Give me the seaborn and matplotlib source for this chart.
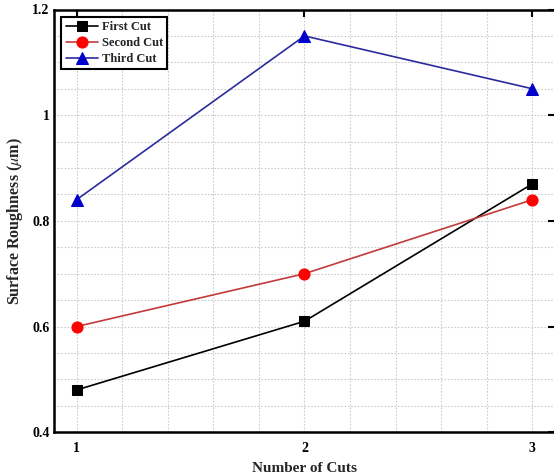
import matplotlib
matplotlib.use("Agg")
import matplotlib.pyplot as plt
import seaborn as sns
import pandas as pd
from matplotlib.ticker import MultipleLocator

cuts = [1, 2, 3]
first_cut = [0.48, 0.61, 0.87]
second_cut = [0.60, 0.70, 0.84]
third_cut = [0.84, 1.15, 1.05]
series_names = ["First Cut", "Second Cut", "Third Cut"]

sns.set_theme(style="white")
plt.rcParams['font.family'] = ['Liberation Serif', 'DejaVu Serif']
plt.rcParams['mathtext.fontset'] = 'stix'

fig = plt.figure(figsize=(5.54, 4.75), dpi=100)
ax = fig.add_axes([0.097, 0.09, 0.905, 0.89])

styles = [
    dict(color="black", marker="s", mfc="black", mec="black", ms=7),
    dict(color="#c23b3b", marker="o", mfc="red", mec="red", ms=8),
    dict(color="#2b2b9e", marker="^", mfc="#0000cc", mec="#0000cc", ms=9),
]
for name, vals, st in zip(series_names, [first_cut, second_cut, third_cut], styles):
    df = pd.DataFrame({"x": cuts, "y": vals})
    sns.lineplot(data=df, x="x", y="y", ax=ax, color=st["color"], marker=st["marker"],
                 markerfacecolor=st["mfc"], markeredgecolor=st["mec"], markersize=st["ms"],
                 linewidth=1.2, label=name)

ax.set_xlim(0.9, 3.1)
ax.set_ylim(0.4, 1.2)
ax.set_xticks([1, 2, 3])
ax.set_xticklabels(["1", "2", "3"])
ax.set_yticks([0.4, 0.6, 0.8, 1.0, 1.2])
ax.set_yticklabels(["0.4", "0.6", "0.8", "1", "1.2"])
ax.xaxis.set_minor_locator(MultipleLocator(0.2))
ax.yaxis.set_minor_locator(MultipleLocator(0.05))
ax.grid(which="both", color="#cccccc", linestyle=(0, (1.5, 1.5)), linewidth=0.8)
ax.tick_params(axis="x", which="major", pad=7)
ax.tick_params(axis="y", which="major", pad=3)
ax.tick_params(which="major", direction="in", length=5, width=1.5, top=True, right=True,
               labelsize=10, colors="black")
ax.tick_params(which="minor", length=0)
for lab in ax.get_xticklabels() + ax.get_yticklabels():
    lab.set_fontweight("bold")
for sp in ax.spines.values():
    sp.set_visible(True)
    sp.set_color("black")
    sp.set_linewidth(1.8)

ax.set_xlabel("Number of Cuts", fontsize=11, fontweight="bold", labelpad=5)
ax.set_ylabel(r"Surface Roughness ($\mu$m)", fontsize=11.5, fontweight="bold", labelpad=5)

leg = ax.legend(loc="upper left", prop={"weight": "bold", "size": 9},
                frameon=True, fancybox=False, borderaxespad=0.6, handlelength=2.6,
                labelspacing=0.3, borderpad=0.35, handletextpad=0.3)
leg.get_frame().set_edgecolor("black")
leg.get_frame().set_linewidth(1.5)
leg.get_frame().set_alpha(1)

fig.savefig("out.png", dpi=100)
